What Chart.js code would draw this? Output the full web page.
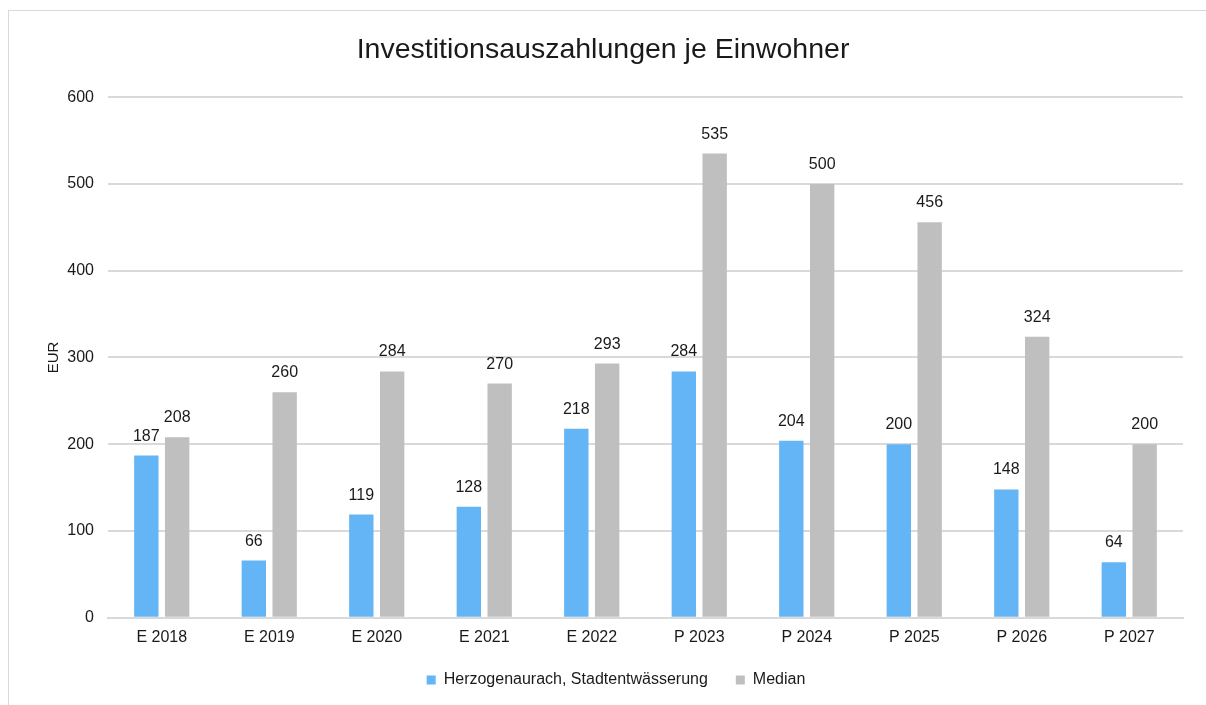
<!DOCTYPE html>
<html>
<head>
<meta charset="utf-8">
<script src="https://cdn.jsdelivr.net/npm/chart.js@4"></script>
<style>
  html, body { margin: 0; padding: 0; background: #fff; overflow: hidden; }
  #frame { position: absolute; left: 8px; top: 10px; width: 1300px; height: 800px;
           border-left: 1px solid #d9d9d9; border-top: 1px solid #d9d9d9; }
  #myChart { position: absolute; left: 0; top: 0; }
</style>
</head>
<body>
<div id="frame"></div>
<canvas id="myChart" width="1206" height="705"></canvas>
<script>
const labels = ["E 2018", "E 2019", "E 2020", "E 2021", "E 2022", "P 2023", "P 2024", "P 2025", "P 2026", "P 2027"];
const herzogenaurach = [187, 66, 119, 128, 218, 284, 204, 200, 148, 64];
const median = [208, 260, 284, 270, 293, 535, 500, 456, 324, 200];
const yTicks = [0, 100, 200, 300, 400, 500, 600];

const textColor = "#1a1a1a";
const fontFamily = "'Liberation Sans', Arial, sans-serif";

// value labels above each bar
const barLabels = {
  id: "barLabels",
  afterDatasetsDraw(chart) {
    const ctx = chart.ctx;
    ctx.save();
    ctx.fillStyle = textColor;
    ctx.font = "16px " + fontFamily;
    ctx.textAlign = "center";
    ctx.textBaseline = "alphabetic";
    chart.data.datasets.forEach((ds, i) => {
      chart.getDatasetMeta(i).data.forEach((bar, j) => {
        ctx.fillText(ds.data[j], bar.x, bar.y - 15);
      });
    });
    ctx.restore();
  },
};

// legend sits a bit right of centre in the original
const legendShift = {
  id: "legendShift",
  afterLayout(chart) {
    chart.legend.left += 26;
  },
};

const data = {
  labels: labels,
  datasets: [
    {
      label: "Herzogenaurach, Stadtentwässerung",
      data: herzogenaurach,
      backgroundColor: "#64b5f6",
      categoryPercentage: 0.574,
      barPercentage: 0.79,
    },
    {
      label: "Median",
      data: median,
      backgroundColor: "#bfbfbf",
      categoryPercentage: 0.574,
      barPercentage: 0.79,
    },
  ],
};

const config = {
  type: "bar",
  data: data,
  plugins: [barLabels, legendShift],
  options: {
    responsive: false,
    animation: false,
    layout: { padding: { left: 0, right: 0, top: 0, bottom: 7 } },
    scales: {
      x: {
        grid: { display: false, drawTicks: false },
        border: { color: "#d9d9d9", width: 2 },
        ticks: { color: textColor, font: { size: 16, family: fontFamily }, padding: 10, maxRotation: 0 },
        afterFit(scale) {
          scale.height = scale.height - 13;
        },
      },
      y: {
        min: 0,
        max: 600,
        afterBuildTicks(scale) {
          scale.ticks = yTicks.map((v) => ({ value: v }));
        },
        afterFit(scale) {
          scale.width = 108;
        },
        grid: { color: "#d9d9d9", lineWidth: 2, drawTicks: false },
        border: { display: false },
        ticks: { color: textColor, font: { size: 16, family: fontFamily }, padding: 14 },
        title: {
          display: true,
          text: "EUR",
          color: textColor,
          font: { size: 15, family: fontFamily },
          padding: { top: 45, bottom: 0 },
        },
      },
      // empty right margin
      yRight: {
        position: "right",
        display: true,
        grid: { display: false, drawTicks: false },
        border: { display: false },
        ticks: { display: false },
        afterFit(scale) {
          scale.width = 23;
        },
      },
    },
    plugins: {
      title: {
        display: true,
        text: "Investitionsauszahlungen je Einwohner",
        color: textColor,
        font: { size: 28.5, family: fontFamily, weight: "normal" },
        padding: { top: 33, bottom: 30 },
      },
      legend: {
        position: "bottom",
        labels: {
          color: textColor,
          font: { size: 16, family: fontFamily },
          boxWidth: 9,
          boxHeight: 9,
          padding: 28,
        },
      },
      tooltip: { enabled: false },
    },
  },
};

new Chart(document.getElementById("myChart"), config);
</script>
</body>
</html>
